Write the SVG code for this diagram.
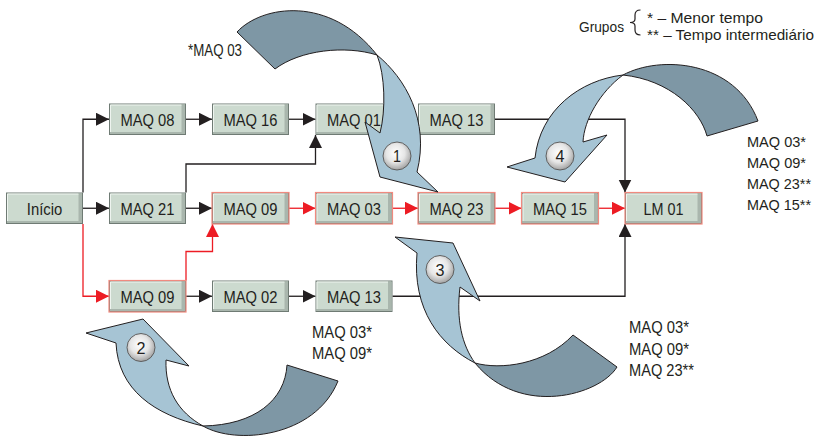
<svg xmlns="http://www.w3.org/2000/svg" xmlns:xlink="http://www.w3.org/1999/xlink" width="817" height="436" viewBox="0 0 817 436">
<style>
text{font-family:"Liberation Sans",Arial,sans-serif;fill:#231f20}
.lbl{font-size:17px;text-anchor:middle}
.ann{font-size:17px}
.ann2{font-size:15.5px}
.leg{font-size:15px}
.num{font-size:17px;text-anchor:middle}
.k{fill:none;stroke:#231f20;stroke-width:1.3}
.r{fill:none;stroke:#ed1c24;stroke-width:1.3}
.ad{fill:#7e97a5;stroke:#231f20;stroke-width:1;stroke-linejoin:round}
.al{fill:#a6c4d4;stroke:#231f20;stroke-width:1;stroke-linejoin:round}
</style>
<defs>
<marker id="mk" markerUnits="userSpaceOnUse" markerWidth="14" markerHeight="14" refX="13" refY="6.5" orient="auto">
<path d="M0,0 L13,6.5 L0,13 Z" fill="#231f20"/>
</marker>
<marker id="mr" markerUnits="userSpaceOnUse" markerWidth="14" markerHeight="14" refX="13" refY="6.5" orient="auto">
<path d="M0,0 L13,6.5 L0,13 Z" fill="#ed1c24"/>
</marker>
<radialGradient id="rg" cx="0.45" cy="0.4" r="0.6">
<stop offset="0" stop-color="#ffffff"/>
<stop offset="0.55" stop-color="#e6e6e6"/>
<stop offset="1" stop-color="#a3a3a3"/>
</radialGradient>
<g id="bx">
<rect x="0.5" y="0.5" width="76" height="30.5" fill="#ccdacf" stroke="#6f7b74"/>
<rect x="72.5" y="1" width="3.5" height="29.5" fill="#a9b6ad"/>
<rect x="1" y="28.5" width="75" height="2" fill="#a9b6ad"/>
<path d="M1.5,28.5 V1.5 H72.5" fill="none" stroke="#eef4ef"/>
</g>
<g id="bxr">
<use xlink:href="#bx"/>
<rect x="0" y="0" width="77" height="31.5" fill="none" stroke="#f08a7f" stroke-width="1.2"/>
</g>
</defs>

<g id="connectors">
<path class="k" d="M83,192.5 V119.25 H109" marker-end="url(#mk)"/>
<path class="k" d="M83,208.25 H109" marker-end="url(#mk)"/>
<path class="r" d="M83,224 V296.25 H109" marker-end="url(#mr)"/>
<path class="k" d="M186,119.25 H212" marker-end="url(#mk)"/>
<path class="k" d="M289,119.25 H315.5" marker-end="url(#mk)"/>
<path class="k" d="M392.5,119.25 H418" marker-end="url(#mk)"/>
<path class="k" d="M186,192.5 V164 H315.5 V135" marker-end="url(#mk)"/>
<path class="k" d="M186,208.25 H212" marker-end="url(#mk)"/>
<path class="r" d="M186,280.5 V251.5 H212.5 V224" marker-end="url(#mr)"/>
<path class="k" d="M186,296.25 H212" marker-end="url(#mk)"/>
<path class="k" d="M289,296.25 H315.5" marker-end="url(#mk)"/>
<path class="r" d="M289,208.25 H315.5" marker-end="url(#mr)"/>
<path class="r" d="M392.5,208.25 H418" marker-end="url(#mr)"/>
<path class="r" d="M495,208.25 H521.5" marker-end="url(#mr)"/>
<path class="r" d="M598.5,208.25 H625" marker-end="url(#mr)"/>
<path class="k" d="M495,119.25 H625 V192.5" marker-end="url(#mk)"/>
<path class="k" d="M392.5,296.25 H625 V224" marker-end="url(#mk)"/>
</g>

<g id="n-inicio" transform="translate(6,192.5)"><use xlink:href="#bx"/><text class="lbl" x="38.5" y="22.5" textLength="35.5" lengthAdjust="spacingAndGlyphs">Início</text></g>
<g id="n-maq08" transform="translate(109,103.5)"><use xlink:href="#bx"/><text class="lbl" x="38.5" y="22.5" textLength="54" lengthAdjust="spacingAndGlyphs">MAQ 08</text></g>
<g id="n-maq16" transform="translate(212,103.5)"><use xlink:href="#bx"/><text class="lbl" x="38.5" y="22.5" textLength="54" lengthAdjust="spacingAndGlyphs">MAQ 16</text></g>
<g id="n-maq01" transform="translate(315.5,103.5)"><use xlink:href="#bx"/><text class="lbl" x="38.5" y="22.5" textLength="54" lengthAdjust="spacingAndGlyphs">MAQ 01</text></g>
<g id="n-maq13a" transform="translate(418,103.5)"><use xlink:href="#bx"/><text class="lbl" x="38.5" y="22.5" textLength="54" lengthAdjust="spacingAndGlyphs">MAQ 13</text></g>
<g id="n-maq21" transform="translate(109,192.5)"><use xlink:href="#bx"/><text class="lbl" x="38.5" y="22.5" textLength="54" lengthAdjust="spacingAndGlyphs">MAQ 21</text></g>
<g id="n-maq09a" transform="translate(212,192.5)"><use xlink:href="#bxr"/><text class="lbl" x="38.5" y="22.5" textLength="54" lengthAdjust="spacingAndGlyphs">MAQ 09</text></g>
<g id="n-maq03" transform="translate(315.5,192.5)"><use xlink:href="#bxr"/><text class="lbl" x="38.5" y="22.5" textLength="54" lengthAdjust="spacingAndGlyphs">MAQ 03</text></g>
<g id="n-maq23" transform="translate(418,192.5)"><use xlink:href="#bxr"/><text class="lbl" x="38.5" y="22.5" textLength="54" lengthAdjust="spacingAndGlyphs">MAQ 23</text></g>
<g id="n-maq15" transform="translate(521.5,192.5)"><use xlink:href="#bxr"/><text class="lbl" x="38.5" y="22.5" textLength="54" lengthAdjust="spacingAndGlyphs">MAQ 15</text></g>
<g id="n-lm01" transform="translate(625,192.5)"><use xlink:href="#bxr"/><text class="lbl" x="38.5" y="22.5" textLength="40" lengthAdjust="spacingAndGlyphs">LM 01</text></g>
<g id="n-maq09b" transform="translate(109,280.5)"><use xlink:href="#bxr"/><text class="lbl" x="38.5" y="22.5" textLength="54" lengthAdjust="spacingAndGlyphs">MAQ 09</text></g>
<g id="n-maq02" transform="translate(212,280.5)"><use xlink:href="#bx"/><text class="lbl" x="38.5" y="22.5" textLength="54" lengthAdjust="spacingAndGlyphs">MAQ 02</text></g>
<g id="n-maq13b" transform="translate(315.5,280.5)"><use xlink:href="#bx"/><text class="lbl" x="38.5" y="22.5" textLength="54" lengthAdjust="spacingAndGlyphs">MAQ 13</text></g>

<g id="curve1">
<path class="ad" d="M237,32 C262,5 330,-5 377,55 C345,45 300,50 275,69 Z"/>
<path class="al" d="M377,55 C405,78 430,120 417,172 L438,192 L380,177 L365,122 L380,133 C386,110 385,75 377,55 Z"/>
<g id="badge1"><circle cx="397" cy="156" r="14" fill="url(#rg)" stroke="#555" stroke-width="0.9"/><text class="num" x="397" y="162" textLength="8" lengthAdjust="spacingAndGlyphs">1</text></g>
</g>
<g id="curve2">
<path class="ad" d="M203,426 C235,445 315,438 338,381 L287,365 C285,400 255,425 203,426 Z"/>
<path class="al" d="M116,343 L86,333 L143,319 L189,366 L166,360 C165,390 178,412 203,426 C155,415 118,390 116,343 Z"/>
<g id="badge2"><circle cx="141" cy="347.5" r="14" fill="url(#rg)" stroke="#555" stroke-width="0.9"/><text class="num" x="141" y="353.5" textLength="9" lengthAdjust="spacingAndGlyphs">2</text></g>
</g>
<g id="curve3">
<path class="ad" d="M475,363 C500,370 545,365 573,335 L617,367 C600,395 520,418 475,363 Z"/>
<path class="al" d="M417,253 L395,237 L453,243 L480,301 L460,287 C456,320 462,345 475,363 C440,345 412,310 417,253 Z"/>
<g id="badge3"><circle cx="440" cy="269.5" r="14" fill="url(#rg)" stroke="#555" stroke-width="0.9"/><text class="num" x="440" y="275.5" textLength="9" lengthAdjust="spacingAndGlyphs">3</text></g>
</g>
<g id="curve4">
<path class="ad" d="M623,75 C660,55 735,60 758,121 L707,136 C700,110 670,80 623,75 Z"/>
<path class="al" d="M623,75 C580,80 540,110 535,158 L507,167 L565,182 L607,135 L583,142 C584,120 600,92 623,75 Z"/>
<g id="badge4"><circle cx="560" cy="156" r="14" fill="url(#rg)" stroke="#555" stroke-width="0.9"/><text class="num" x="560" y="162" textLength="9" lengthAdjust="spacingAndGlyphs">4</text></g>
</g>

<g id="annotations">
<text class="ann" x="188" y="56" textLength="54" lengthAdjust="spacingAndGlyphs">*MAQ 03</text>
<text class="ann" x="312" y="337.5" textLength="60" lengthAdjust="spacingAndGlyphs">MAQ 03*</text>
<text class="ann" x="312" y="359" textLength="60" lengthAdjust="spacingAndGlyphs">MAQ 09*</text>
<text class="ann" x="629" y="333" textLength="60" lengthAdjust="spacingAndGlyphs">MAQ 03*</text>
<text class="ann" x="629" y="354.5" textLength="60" lengthAdjust="spacingAndGlyphs">MAQ 09*</text>
<text class="ann" x="629" y="376" textLength="65" lengthAdjust="spacingAndGlyphs">MAQ 23**</text>
<text class="ann2" x="747" y="146.5" textLength="59" lengthAdjust="spacingAndGlyphs">MAQ 03*</text>
<text class="ann2" x="747" y="167.5" textLength="59" lengthAdjust="spacingAndGlyphs">MAQ 09*</text>
<text class="ann2" x="747" y="188.5" textLength="64" lengthAdjust="spacingAndGlyphs">MAQ 23**</text>
<text class="ann2" x="747" y="209.5" textLength="64" lengthAdjust="spacingAndGlyphs">MAQ 15**</text>
</g>

<g id="legend">
<text class="leg" x="579" y="32" font-size="16" textLength="45" lengthAdjust="spacingAndGlyphs">Grupos</text>
<path d="M640.5,10 Q635,10 635,15 V19 Q635,22.5 630,22.5 Q635,22.5 635,26 V30 Q635,35 640.5,35" fill="none" stroke="#231f20" stroke-width="1.2"/>
<text class="leg" x="647" y="23" textLength="116" lengthAdjust="spacingAndGlyphs">* – Menor tempo</text>
<text class="leg" x="647" y="40" textLength="167" lengthAdjust="spacingAndGlyphs">** – Tempo intermediário</text>
</g>
</svg>
